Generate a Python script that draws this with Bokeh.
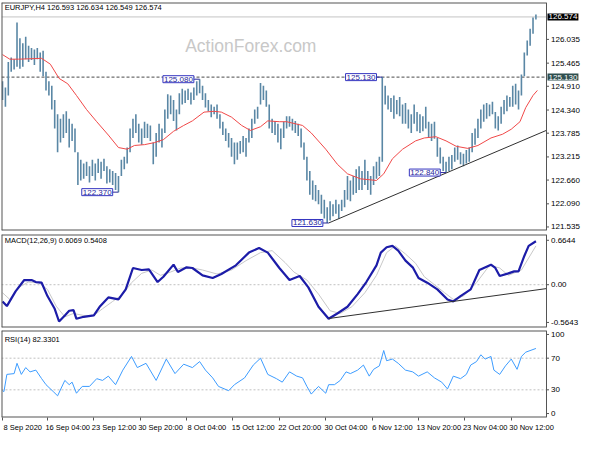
from bokeh.plotting import figure
from bokeh.layouts import column
from bokeh.models import Range1d, FixedTicker, Label, Span, LinearAxis
from bokeh.core.properties import value
from bokeh.embed import file_html
from bokeh.resources import INLINE

# ---------------- data ----------------
bar_idx = list(range(0, 369, 2))
highs = [125.03,124.88,125.49,125.60,125.56,126.44,126.06,125.94,126.10,125.88,
         125.83,125.79,125.83,125.72,125.76,125.26,125.03,124.92,124.58,124.24,
         124.13,124.24,124.31,124.13,124.01,123.90,123.33,123.15,123.06,123.10,
         122.99,123.15,123.06,123.17,123.10,123.17,122.99,122.92,122.88,122.83,
         122.76,123.15,123.22,123.44,123.90,124.13,124.24,124.01,123.90,124.06,
         124.01,123.97,123.56,123.79,124.01,123.90,124.35,124.72,124.69,124.58,
         124.35,124.74,124.85,124.81,124.85,124.76,124.88,125.03,125.08,124.92,
         124.74,124.58,124.47,124.42,124.47,124.24,124.06,123.90,123.79,123.67,
         123.56,123.56,123.60,123.72,123.67,123.90,124.13,124.35,124.42,124.99,
         124.92,124.81,124.47,124.13,124.08,124.01,123.90,124.06,124.19,124.19,
         124.13,124.08,124.01,123.90,123.56,123.22,122.88,122.65,122.54,122.42,
         122.31,122.19,122.01,122.15,122.08,122.19,122.08,122.19,122.42,122.76,
         122.65,122.76,122.92,122.99,122.88,123.15,122.88,122.76,122.99,123.10,
         123.22,125.13,124.92,124.69,124.63,124.69,124.58,124.65,124.47,124.51,
         124.35,124.24,124.47,124.29,124.24,124.19,124.42,124.06,124.01,124.06,
         123.67,123.44,123.22,123.10,123.22,123.26,123.44,123.49,123.33,123.29,
         123.38,123.44,123.79,123.90,124.13,124.35,124.47,124.51,124.47,124.54,
         124.29,124.19,124.42,124.58,124.69,124.65,124.92,124.97,124.81,125.19,
         125.72,126.01,126.29,126.56,126.634]
lows = [124.58,124.42,124.69,125.26,125.31,125.38,125.33,125.38,125.56,125.49,
        125.54,125.42,125.56,125.26,125.15,124.81,124.69,124.35,123.90,123.33,
        123.56,123.67,123.79,123.44,123.60,123.33,122.54,122.65,122.69,122.76,
        122.60,122.76,122.65,122.83,122.69,122.88,122.58,122.60,122.54,122.42,
        122.37,122.76,122.92,123.06,123.33,123.67,123.79,123.56,123.51,123.67,
        123.67,123.60,123.04,123.22,123.56,123.44,123.79,124.13,124.24,124.08,
        123.85,124.24,124.47,124.51,124.58,124.47,124.58,124.69,124.74,124.58,
        124.40,124.31,124.17,124.24,124.13,123.90,123.74,123.60,123.44,123.22,
        123.04,123.15,123.29,123.33,123.22,123.56,123.67,124.01,124.13,124.47,
        124.58,124.42,123.90,123.79,123.74,123.56,123.40,123.67,123.90,123.94,
        123.85,123.79,123.72,123.44,123.15,122.65,122.31,122.19,122.15,122.08,
        121.85,121.74,121.63,121.69,121.79,121.85,121.74,121.92,122.01,122.19,
        122.15,122.31,122.35,122.42,122.42,122.54,122.42,122.31,122.54,122.69,
        122.76,123.10,124.47,124.35,124.29,124.13,124.24,124.19,124.01,124.01,
        123.90,123.79,124.01,123.83,123.79,123.83,123.90,123.67,123.60,123.65,
        123.22,123.06,122.88,122.84,122.88,122.92,123.10,123.15,123.04,122.99,
        123.06,123.10,123.33,123.51,123.67,123.90,124.06,124.13,124.19,124.24,
        123.90,123.85,124.01,124.24,124.31,124.42,124.42,124.47,124.35,124.69,
        125.15,125.65,125.88,126.17,126.51]

ma_x = [0,5,11,27,33,39,45,51,58,65,73,80,86,91,98,105,111,118,125,131,
        139,146,151,158,165,171,178,183,191,196,207,213,223,231,238,247,258,263,269,276,
        285,291,299,306,313,321,328,337,345,351,357,361,366,369]
ma_y = [125.67,125.56,125.56,125.58,125.44,125.10,124.97,124.69,124.35,124.06,
        123.74,123.44,123.40,123.49,123.51,123.56,123.63,123.83,123.97,124.08,
        124.29,124.31,124.29,124.17,123.97,123.85,123.94,124.08,124.06,124.06,
        123.97,123.79,123.40,123.04,122.81,122.69,122.65,122.81,123.17,123.40,
        123.60,123.67,123.70,123.60,123.47,123.42,123.49,123.67,123.76,123.88,
        124.06,124.40,124.69,124.81]

macd_x = [0,3,9,15,20,23,27,31,36,39,43,46,49,51,56,63,67,73,80,85,
          90,96,101,107,111,118,121,127,131,138,145,151,161,170,177,183,191,198,205,211,
          218,225,231,238,245,251,258,261,265,269,273,278,283,287,293,300,307,311,316,323,
          329,337,340,343,349,353,356,360,363,368]
macd_y = [-0.25,-0.32,-0.10,0.07,0.07,0.04,0.03,-0.17,-0.36,-0.55,
          -0.46,-0.39,-0.38,-0.51,-0.48,-0.46,-0.33,-0.19,-0.22,-0.07,
          0.25,0.22,0.23,0.04,0.12,0.30,0.19,0.26,0.25,0.14,
          0.10,0.16,0.29,0.48,0.55,0.48,0.25,0.07,0.13,-0.04,
          -0.33,-0.51,-0.43,-0.33,-0.14,0.04,0.29,0.48,0.56,0.58,
          0.51,0.36,0.26,0.10,0.03,-0.07,-0.22,-0.25,-0.17,-0.07,
          0.22,0.30,0.25,0.13,0.17,0.20,0.20,0.43,0.58,0.65]
sig_x = [0,5,11,18,25,31,37,43,49,56,63,69,76,83,89,96,103,109,116,123,
         131,138,148,158,168,178,186,195,201,210,218,226,233,241,250,258,265,271,278,285,
         291,298,305,311,318,327,336,343,349,358,368]
sig_y = [-0.12,-0.22,-0.04,0.04,0.03,-0.07,-0.32,-0.48,-0.43,-0.46,
         -0.46,-0.36,-0.25,-0.14,0.03,0.17,0.22,0.14,0.19,0.25,
         0.25,0.22,0.16,0.22,0.36,0.48,0.51,0.33,0.19,0.07,
         -0.14,-0.39,-0.43,-0.33,-0.12,0.14,0.48,0.58,0.46,0.32,
         0.12,0.0,-0.12,-0.22,-0.17,0.03,0.29,0.25,0.14,0.22,0.58]

rsi_x = [0,1,3,8,10,13,16,19,23,27,30,35,38,43,46,48,51,55,60,65,
         69,73,78,83,89,93,99,106,113,119,125,131,136,140,145,149,156,160,167,173,
         178,183,189,193,198,203,207,210,213,218,223,225,229,233,237,240,245,249,253,256,
         260,263,265,269,273,278,283,287,293,298,303,307,311,316,320,323,327,330,333,337,
         339,343,347,351,355,358,361,368]
rsi_y = [28.9,27.8,49.5,50.5,63.5,49.5,58.1,52.7,54.9,44.1,36.5,27.8,22.4,41.9,36.5,
         39.7,25.7,34.3,34.3,44.1,41.9,47.3,36.5,54.9,72.2,58.1,63.5,41.9,68.9,50.5,
         62.4,58.1,65.7,54.9,45.1,34.3,28.9,36.5,45.1,61.3,70.0,49.5,44.1,39.7,52.7,
         47.3,45.1,34.3,24.6,34.3,25.7,36.5,36.5,41.9,52.7,50.5,54.9,61.3,47.3,55.9,
         60.3,79.7,66.8,68.9,63.5,54.9,52.7,47.3,52.7,45.1,39.7,31.1,47.3,44.1,49.5,
         61.3,65.7,74.3,68.9,72.2,54.9,49.5,60.3,68.9,55.9,72.2,77.6,82.3]

price_ticks = [121.535, 122.090, 122.660, 123.215, 123.785, 124.340, 124.910, 125.465, 126.035]
price_tick_labels = ["121.535", "122.090", "122.660", "123.215", "123.785",
                     "124.340", "124.910", "125.465", "126.035"]
macd_ticks = [0.6644, 0.0, -0.5643]
macd_tick_labels = ["0.6644", "0.00", "-0.5643"]
rsi_ticks = [100, 70, 30, 0]
rsi_tick_labels = ["100", "70", "30", "0"]
time_tick_idx = [0, 31, 63, 95, 127, 159, 191, 223, 255, 287, 319, 351]
time_labels = ["8 Sep 2020", "16 Sep 04:00", "23 Sep 12:00", "30 Sep 20:00", "8 Oct 04:00",
               "15 Oct 12:00", "22 Oct 20:00", "30 Oct 04:00", "6 Nov 12:00", "13 Nov 20:00",
               "23 Nov 04:00", "30 Nov 12:00"]

current_price = 126.574
resistance = 125.130
level_vals = [125.080, 122.370, 121.630, 125.130, 122.840]
level_bar = [136, 80, 225, 262, 306]
trend_x = [225, 375.3]
trend_y = [121.63, 123.853]
macd_trend_x = [225, 375.3]
macd_trend_y = [-0.506, -0.058]

header_main = "EURJPY,H4  126.593 126.634 126.549 126.574"
header_macd = "MACD(12,26,9) 0.6069 0.5408"
header_rsi = "RSI(14) 82.3301"

# ---------------- styling ----------------
FONT = "Liberation Sans"
W = 584
X0, X1 = -0.7, 375.3          # chart area (bars)
PX = 545 / (X1 - X0)          # pixels per bar unit
X_EXT = X1 + 38 / PX          # price-scale strip to the right of the chart area
xr = Range1d(X0, X_EXT)
TICK = 2.5 / PX
LBL = 4.5 / PX
LABEL_SHIFT = 14              # half a time label, in bar units (labels start at their tick)
EDGE = "#555555"


def panel(height, ymin, ymax, bt, bb):
    p = figure(width=W, height=height, x_range=xr, y_range=Range1d(ymin, ymax),
               output_backend="svg", toolbar_location=None,
               x_axis_location=None, y_axis_location=None,
               min_border_left=1, min_border_right=0,
               min_border_top=bt, min_border_bottom=bb)
    p.xgrid.visible = False
    p.ygrid.visible = False
    p.outline_line_color = None
    p.background_fill_color = "white"
    p.border_fill_color = "white"
    # chart-area border (left, right, top, bottom)
    p.add_layout(Span(location=X0, dimension="height", line_color=EDGE, line_width=2))
    p.add_layout(Span(location=X1, dimension="height", line_color=EDGE, line_width=1))
    p.segment(x0=[X0, X0], y0=[ymin, ymax], x1=[X1, X1], y1=[ymin, ymax],
              line_color=EDGE, line_width=2)
    return p


def scale(p, ticks, labels):
    n = len(ticks)
    p.segment(x0=[X1] * n, y0=ticks, x1=[X1 + TICK] * n, y1=ticks, line_color=EDGE, line_width=1)
    p.text(x=[X1 + LBL] * n, y=ticks, text=labels, text_font=value(FONT),
           text_font_size="8px", text_baseline="middle", text_align="left", text_color="black")


def txt(p, x, y, s, size="8px", color="black", **kw):
    lab = Label(x=x, y=y, text=s, text_font=FONT, text_font_size=size,
                text_color=color, text_baseline="middle", **kw)
    p.add_layout(lab)
    return lab


# ---------------- main price panel ----------------
pm = panel(232, 121.45, 126.92, 2, 2)
txt(pm, 126, 125.87, "ActionForex.com", size="17.5px", color="#c8c8c8")
pm.segment(x0=[X0], y0=[current_price], x1=[X1], y1=[current_price],
           line_color="#c4c4c4", line_width=1)
pm.segment(x0=[X0], y0=[resistance], x1=[X1], y1=[resistance],
           line_color="#4a4a4a", line_width=1, line_dash="3 2")
pm.segment(x0=bar_idx, y0=lows, x1=bar_idx, y1=highs, line_color="#5a87a5", line_width=1.6)
pm.line(ma_x, ma_y, line_color="#f04848", line_width=1)
pm.line(trend_x, trend_y, line_color="#303030", line_width=1)
conn_x0 = [b - 4 for b in level_bar]
pm.segment(x0=conn_x0, y0=level_vals, x1=level_bar, y1=level_vals, line_color="#2a2a9a", line_width=1)
for b, v in zip(level_bar, level_vals):
    txt(pm, b - 4, v, f"{v:.3f}", color="#1e1e9a", text_align="right",
        background_fill_color="white", border_line_color="#3535c0", padding=1)
txt(pm, 1.5, 126.80, header_main, size="7.5px")
scale(pm, price_ticks, price_tick_labels)
txt(pm, X1 + 1.0 / PX, current_price, f"{current_price:.3f}", color="white", text_align="left",
    background_fill_color="black", padding=1)
txt(pm, X1 + 1.0 / PX, resistance, f"{resistance:.3f}", color="white", text_align="left",
    background_fill_color="#2f4f4f", padding=1)

# ---------------- MACD panel ----------------
pmacd = panel(96, -0.64, 0.751, 2, 1)
pmacd.segment(x0=[X0], y0=[0], x1=[X1], y1=[0], line_color="#c0c0c0", line_width=1, line_dash="2 2")
pmacd.line(sig_x, sig_y, line_color="#c8c8c8", line_width=1)
pmacd.line(macd_x, macd_y, line_color="#1c1ca8", line_width=2.2)
pmacd.line(macd_trend_x, macd_trend_y, line_color="#303030", line_width=1)
txt(pmacd, 1.5, 0.66, header_macd, size="7.5px")
scale(pmacd, macd_ticks, macd_tick_labels)

# ---------------- RSI panel ----------------
prsi = panel(106, -5, 105, 2, 16)
prsi.segment(x0=[X0, X0], y0=[30, 70], x1=[X1, X1], y1=[30, 70],
             line_color="#c0c0c0", line_width=1, line_dash="2 2")
prsi.line(rsi_x, rsi_y, line_color="#3d9cff", line_width=1)
txt(prsi, 1.5, 94, header_rsi, size="7.5px")
scale(prsi, rsi_ticks, rsi_tick_labels)

# time axis: small tick marks (minor ticks) at each labelled bar, labels starting at the tick
lab_pos = [t + LABEL_SHIFT for t in time_tick_idx]
xax = LinearAxis(ticker=FixedTicker(ticks=lab_pos, minor_ticks=time_tick_idx),
                 major_label_overrides={p_: s for p_, s in zip(lab_pos, time_labels)})
xax.axis_line_color = None
xax.major_tick_line_color = None
xax.major_tick_out = 0
xax.major_tick_in = 0
xax.minor_tick_line_color = EDGE
xax.minor_tick_out = 3
xax.minor_tick_in = 0
xax.major_label_text_font = FONT
xax.major_label_text_font_size = "7.5px"
xax.major_label_text_color = "black"
xax.major_label_standoff = 2
prsi.add_layout(xax, "below")

layout = column(pm, pmacd, prsi, spacing=0)
open("out.html", "w").write(file_html(layout, INLINE))
